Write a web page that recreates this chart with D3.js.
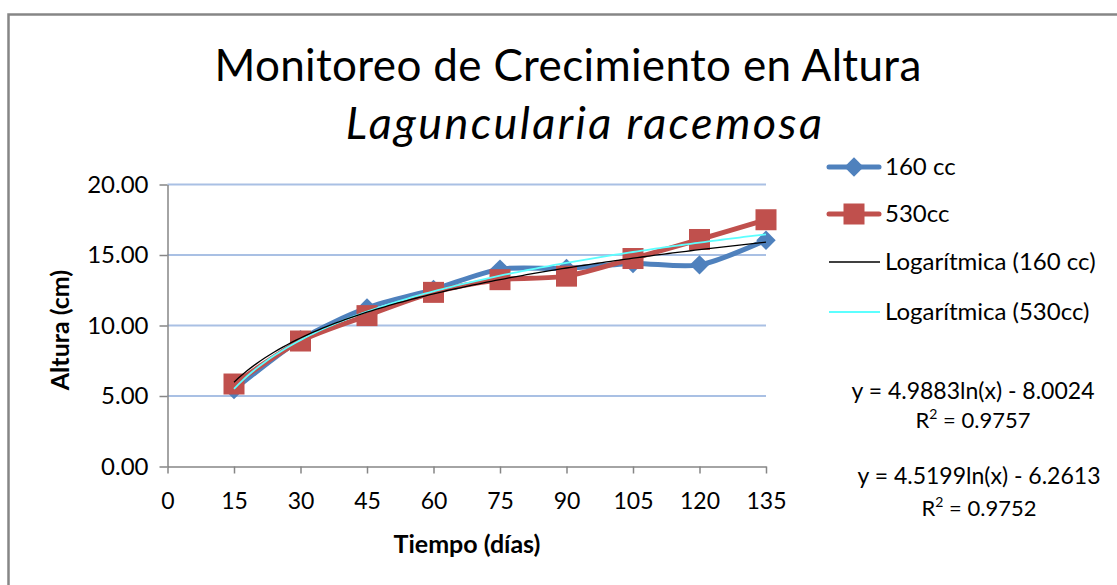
<!DOCTYPE html>
<html>
<head>
<meta charset="utf-8">
<script src="https://cdn.jsdelivr.net/npm/d3@7"></script>
<style>
  html, body { margin: 0; padding: 0; background: #fff; }
  svg { display: block; }
  text { font-family: Lato, "Open Sans", sans-serif; fill: #000; }
</style>
</head>
<body>
<svg id="chart" width="1117" height="585"></svg>
<script>
// Days of measurement
const days = [15, 30, 45, 60, 75, 90, 105, 120, 135];
// Mean height (cm) for each pot size
const altura160 = [5.45, 9.0, 11.25, 12.55, 14.0, 14.05, 14.4, 14.3, 16.05];
const altura530 = [5.85, 8.9, 10.7, 12.35, 13.25, 13.5, 14.75, 16.1, 17.5];
// Logarithmic fits: y = a ln(x) + b
const fit160 = [4.5199, -6.2613];
const fit530 = [4.9883, -8.0024];
// Axis ticks
const xTicks = [0, 15, 30, 45, 60, 75, 90, 105, 120, 135];
const yTicks = [0, 5, 10, 15, 20];
// Legend and equation texts
const legendLabels = ["160 cc", "530cc", "Logarítmica (160 cc)", "Logarítmica (530cc)"];
const eqLabels = [
  ["y = 4.9883ln(x) - 8.0024", "0.9757"],
  ["y = 4.5199ln(x) - 6.2613", "0.9752"]
];

const svg = d3.select("#chart");
const W = 1117, H = 585;

const blue = "#4F81BD", red = "#C0504D", axisGrey = "#868686";
const gridBlue = "#A9C0E4", trendCyan = "#5CFFFF";

// Outer chart border (left and top edges visible)
svg.append("path")
  .attr("d", `M8.5,${H} L8.5,14.5 L${W},14.5`)
  .attr("fill", "none").attr("stroke", axisGrey).attr("stroke-width", 2.5);

const x = d3.scaleLinear().domain([0, 135]).range([167.5, 766]);
const y = d3.scaleLinear().domain([0, 20]).range([466.5, 184.5]);

// Horizontal gridlines
svg.append("g").selectAll("line")
  .data(yTicks.filter(t => t > 0))
  .join("line")
  .attr("x1", x(0)).attr("x2", x(135))
  .attr("y1", d => y(d)).attr("y2", d => y(d))
  .attr("stroke", gridBlue).attr("stroke-width", 2);

// Y axis
const yAxis = svg.append("g")
  .attr("transform", `translate(${x(0)},0)`)
  .call(d3.axisLeft(y).tickValues(yTicks).tickFormat(d3.format(".2f")).tickSize(8).tickSizeOuter(0).tickPadding(11));
yAxis.select(".domain").attr("stroke", axisGrey).attr("stroke-width", 1.5);
yAxis.selectAll(".tick line").attr("stroke", axisGrey).attr("stroke-width", 1.5);
yAxis.selectAll(".tick text").style("font-size", "24px").attr("fill", "#000");

// X axis
const xAxis = svg.append("g")
  .attr("transform", `translate(0,${y(0)})`)
  .call(d3.axisBottom(x).tickValues(xTicks).tickFormat(d3.format("d")).tickSize(7).tickSizeOuter(0).tickPadding(19));
xAxis.select(".domain").attr("stroke", axisGrey).attr("stroke-width", 1.5);
xAxis.selectAll(".tick line").attr("stroke", axisGrey).attr("stroke-width", 1.5);
xAxis.selectAll(".tick text").style("font-size", "23px").attr("fill", "#000");

// Axis titles
svg.append("text")
  .attr("x", 467).attr("y", 553)
  .attr("text-anchor", "middle")
  .style("font-size", "25px").style("font-weight", "bold")
  .text("Tiempo (días)");
svg.append("text")
  .attr("transform", "translate(69,330) rotate(-90)")
  .attr("text-anchor", "middle")
  .style("font-size", "25px").style("font-weight", "bold")
  .text("Altura (cm)");

// Chart title
svg.append("text")
  .attr("x", 568).attr("y", 81)
  .attr("text-anchor", "middle")
  .style("font-size", "44px").style("letter-spacing", "0.35px")
  .text("Monitoreo de Crecimiento en Altura");
svg.append("text")
  .attr("x", 585).attr("y", 139)
  .attr("text-anchor", "middle")
  .style("font-size", "45px").style("font-style", "italic").style("letter-spacing", "2.4px")
  .text("Laguncularia racemosa");

// Data series
const smooth = d3.line()
  .x(d => x(d[0])).y(d => y(d[1]))
  .curve(d3.curveCardinal.tension(0.2));

const series160 = days.map((d, i) => [d, altura160[i]]);
const series530 = days.map((d, i) => [d, altura530[i]]);

const diamond = d3.symbol().type(d3.symbolDiamond2).size(240);

svg.append("path").datum(series160)
  .attr("d", smooth).attr("fill", "none")
  .attr("stroke", blue).attr("stroke-width", 5).attr("stroke-linejoin", "round").attr("stroke-linecap", "round");
svg.append("g").selectAll("path")
  .data(series160).join("path")
  .attr("transform", d => `translate(${x(d[0])},${y(d[1])})`)
  .attr("d", diamond).attr("fill", blue);

svg.append("path").datum(series530)
  .attr("d", smooth).attr("fill", "none")
  .attr("stroke", red).attr("stroke-width", 5).attr("stroke-linejoin", "round").attr("stroke-linecap", "round");
svg.append("g").selectAll("rect")
  .data(series530).join("rect")
  .attr("x", d => x(d[0]) - 10.5).attr("y", d => y(d[1]) - 10.5)
  .attr("width", 21).attr("height", 21)
  .attr("fill", red);

// Trendlines from the fitted equations
const logCurve = fit => d3.range(15, 135.01, 1).map(t => [t, fit[0] * Math.log(t) + fit[1]]);
const plain = d3.line().x(d => x(d[0])).y(d => y(d[1]));
svg.append("path").datum(logCurve(fit530))
  .attr("d", plain).attr("fill", "none").attr("stroke", trendCyan).attr("stroke-width", 1.8);
svg.append("path").datum(logCurve(fit160))
  .attr("d", plain).attr("fill", "none").attr("stroke", "#000").attr("stroke-width", 1.3);

// Legend
const legY = [167, 214, 262, 312];
const lg = svg.append("g");
legendLabels.forEach((label, i) => {
  const yy = legY[i];
  if (i < 2) {
    lg.append("line").attr("x1", 829).attr("x2", 879).attr("y1", yy).attr("y2", yy)
      .attr("stroke", i === 0 ? blue : red).attr("stroke-width", 5).attr("stroke-linecap", "round");
    if (i === 0) {
      lg.append("path").attr("transform", `translate(854,${yy})`).attr("d", diamond).attr("fill", blue);
    } else {
      lg.append("rect").attr("x", 843.5).attr("y", yy - 10.5).attr("width", 21).attr("height", 21).attr("fill", red);
    }
  } else {
    lg.append("line").attr("x1", 829).attr("x2", 880).attr("y1", yy).attr("y2", yy)
      .attr("stroke", i === 2 ? "#000" : trendCyan).attr("stroke-width", i === 2 ? 1.3 : 1.8);
  }
  lg.append("text").attr("x", 885).attr("y", yy).attr("dy", "0.35em")
    .style("font-size", "24px").text(label);
});

// Equation labels
const eqPos = [[973, 399, 428], [979, 484, 516]];
eqLabels.forEach((eq, i) => {
  const [cx, y1, y2] = eqPos[i];
  svg.append("text").attr("x", cx).attr("y", y1).attr("text-anchor", "middle")
    .style("font-size", "23px").text(eq[0]);
  const r = svg.append("text").attr("x", cx).attr("y", y2).attr("text-anchor", "middle")
    .style("font-size", "22px");
  r.append("tspan").text("R");
  r.append("tspan").attr("dy", -9).style("font-size", "14px").text("2");
  r.append("tspan").attr("dy", 9).text(" = " + eq[1]);
});
</script>
</body>
</html>
